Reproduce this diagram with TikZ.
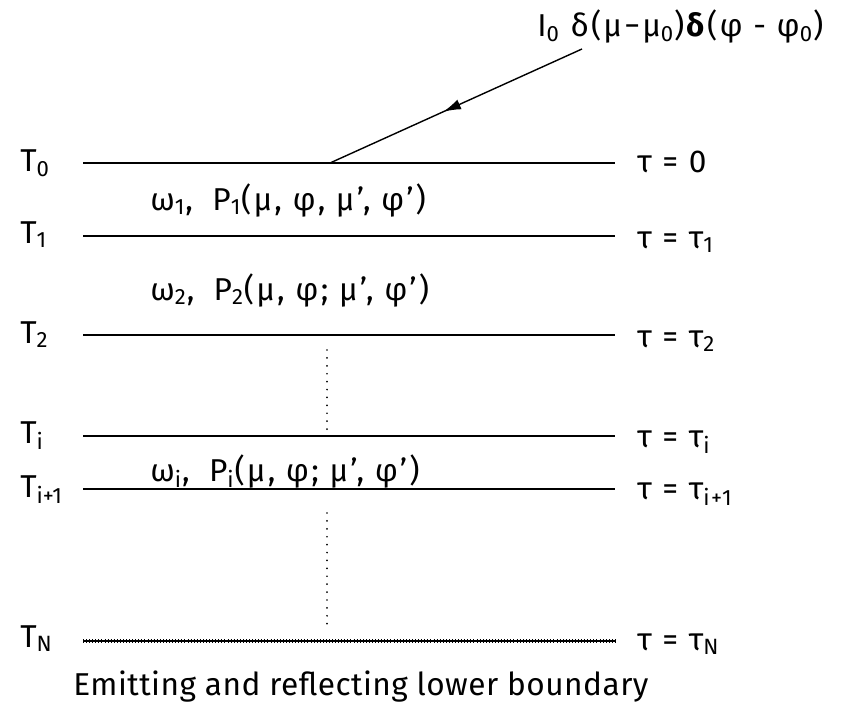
\documentclass[tikz,border=0pt]{standalone}
\usepackage{fontspec}
\setmainfont{Fira Sans}
\usepackage{tikz}
\usetikzlibrary{arrows.meta,decorations.markings}

\begin{document}
\begin{tikzpicture}[x=0.02cm, y=-0.02cm, >=Latex, every node/.style={font=\fontsize{18}{20}\selectfont, inner sep=0pt}]
\tikzstyle{level}=[line width=0.9pt]
\tikzstyle{lbl}=[anchor=base west]
\tikzstyle{wide}=[lbl, font=\fontsize{18}{20}\selectfont\addfontfeatures{LetterSpace=7}]
\tikzstyle{gap}=[line width=1.1pt, line cap=round, dash pattern=on 0pt off 4.5pt]
\tikzstyle{comb}=[line width=2.6pt, dash pattern=on 0.45pt off 1.3pt, yshift=-1.2pt]
\useasboundingbox (0,0) rectangle (842,706);
% boundary levels
\coordinate (a0) at (83,163);  \coordinate (b0) at (615,163);
\coordinate (a1) at (83,236);  \coordinate (b1) at (615,236);
\coordinate (a2) at (83,335);  \coordinate (b2) at (615,335);
\coordinate (ai) at (83,436);  \coordinate (bi) at (615,436);
\coordinate (aj) at (83,489);  \coordinate (bj) at (615,489);
\coordinate (aN) at (83,641);  \coordinate (bN) at (615,641);
\node[lbl] (T0) at (20,172) {T\textsubscript{0}};
\node[lbl] (T1) at (20,243) {T\textsubscript{1}};
\node[lbl] (T2) at (20,343) {T\textsubscript{2}};
\node[lbl] (Ti) at (20,443) {T\textsubscript{i}};
\node[lbl] (Tj) at (20,497) {T\textsubscript{i+1}};
\node[lbl] (TN) at (20,647) {T\textsubscript{N}};
\node[wide] (tau0) at (637,173) {τ = 0};
\node[wide] (tau1) at (637,248) {τ = τ\textsubscript{1}};
\node[wide] (tau2) at (637,347) {τ = τ\textsubscript{2}};
\node[wide] (taui) at (637,447) {τ = τ\textsubscript{i}};
\node[wide] (tauj) at (637,499) {τ = τ\textsubscript{i+1}};
\node[wide] (tauN) at (637,650) {τ = τ\textsubscript{N}};
% layer properties
\node[wide] (L1) at (150,210) {ω\textsubscript{1},\; P\textsubscript{1}(μ, φ, μ', φ')};
\node[wide] (L2) at (150,300) {ω\textsubscript{2},\; P\textsubscript{2}(μ, φ; μ', φ')};
\node[wide] (Li) at (150,481) {ω\textsubscript{i},\; P\textsubscript{i}(μ, φ; μ', φ')};
% incident beam
\node[wide] (beam) at (537,37) {I\textsubscript{0} δ(μ−μ\textsubscript{0})\textbf{δ}(φ - φ\textsubscript{0})};
\coordinate (src) at (582,49);
\coordinate (hit) at (330,163);
\draw[level] (a0) -- (b0);
\draw[level] (a1) -- (b1);
\draw[level] (a2) -- (b2);
\draw[level] (ai) -- (bi);
\draw[level] (aj) -- (bj);
\draw[level, line width=1.1pt] (aN) -- (bN);
\draw[comb] (aN) -- (bN);
\draw[line width=0.8pt, postaction={decorate, decoration={markings, mark=at position 0.55 with {\arrow{Latex[length=10pt, width=6pt]}}}}] (src) -- (hit);
\coordinate (d1) at (327,350); \coordinate (d2) at (327,430);
\coordinate (d3) at (327,513); \coordinate (d4) at (327,627);
\draw[gap] (d1) -- (d2);
\draw[gap] (d3) -- (d4);
\node[lbl, font=\fontsize{18}{20}\selectfont\addfontfeatures{LetterSpace=1.5}] (floor) at (73,695) {Emitting and reflecting lower boundary};
\end{tikzpicture}
\end{document}
